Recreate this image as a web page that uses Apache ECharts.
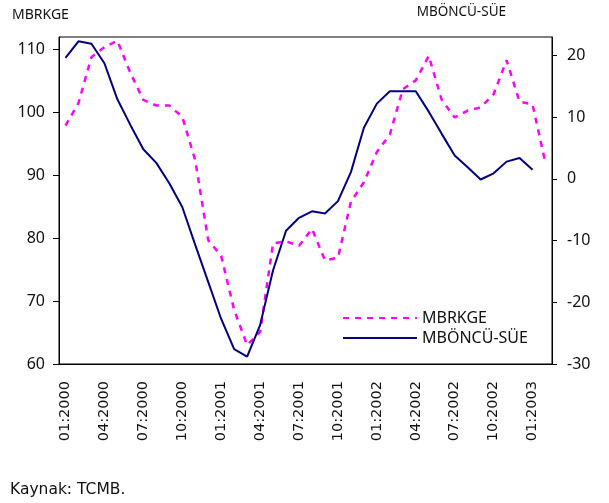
<!DOCTYPE html>
<html>
<head>
<meta charset="utf-8">
<script src="https://cdn.jsdelivr.net/npm/echarts@6/dist/echarts.min.js"></script>
<style>
html,body{margin:0;padding:0;background:#fff;}
#c{width:609px;height:503px;}
</style>
</head>
<body>
<div id="c"></div>
<script>
var categories = ["01:2000","02:2000","03:2000","04:2000","05:2000","06:2000","07:2000","08:2000","09:2000","10:2000","11:2000","12:2000",
"01:2001","02:2001","03:2001","04:2001","05:2001","06:2001","07:2001","08:2001","09:2001","10:2001","11:2001","12:2001",
"01:2002","02:2002","03:2002","04:2002","05:2002","06:2002","07:2002","08:2002","09:2002","10:2002","11:2002","12:2002",
"01:2003","02:2003"];
var mbrkge = [97.9,101.5,108.8,110.4,111.4,106.3,102.0,101.1,101.1,99.3,92.4,79.7,
77.2,68.6,63.0,65.1,79.2,79.5,78.8,81.5,76.5,76.9,85.8,88.9,
93.7,96.5,103.7,105.1,109.0,102.0,99.2,100.3,100.8,102.9,108.3,101.7,
101.3,91.9];
var mboncu = [19.6,22.3,21.9,18.75,12.9,8.75,4.8,2.6,-0.7,-4.55,-10.7,-16.7,
-22.7,-27.6,-28.8,-23.7,-14.8,-8.4,-6.3,-5.25,-5.6,-3.6,1.1,8.3,
12.2,14.2,14.2,14.2,10.9,7.3,3.8,1.9,-0.1,0.9,2.8,3.4,
1.5,null];
var leftTicks = [60,70,80,90,100,110];
var rightTicks = [-30,-20,-10,0,10,20];
var seriesNames = ["MBRKGE","MBÖNCÜ-SÜE"];

var chart = echarts.init(document.getElementById('c'), null, {renderer:'canvas'});
chart.setOption({
  animation:false,
  backgroundColor:'#fff',
  grid:{left:59,right:57,top:37,bottom:139,show:true,borderColor:'#000',borderWidth:1},
  legend:{
    orient:'vertical',left:337,top:303,
    itemWidth:74,itemHeight:20,itemGap:0,itemTextGap:7,
    itemStyle:{opacity:0},
    textStyle:{fontFamily:'Noto Sans',fontSize:16,color:'#111',lineHeight:20},
    data:seriesNames
  },
  graphic:[
    {type:'text',left:12,top:8,style:{text:'MBRKGE',fontFamily:'Noto Sans',fontSize:14,fill:'#111'}},
    {type:'text',right:103,top:5,style:{text:'MBÖNCÜ-SÜE',fontFamily:'Noto Sans',fontSize:13.5,fill:'#111'}},
    {type:'text',left:10,top:482,style:{text:'Kaynak: TCMB.',fontFamily:'DejaVu Sans',fontSize:15.5,fill:'#111'}}
  ],
  xAxis:{
    type:'category',data:categories,boundaryGap:true,
    axisLine:{onZero:false,lineStyle:{color:'#000',width:1}},
    axisTick:{interval:2,length:5,lineStyle:{color:'#000'}},
    axisLabel:{interval:2,rotate:90,margin:17,fontFamily:'DejaVu Sans',fontSize:14.5,color:'#111'},
    splitLine:{show:false}
  },
  yAxis:[
    {type:'value',min:60,max:112,interval:10,position:'left',
     axisLine:{show:true,lineStyle:{color:'#000'}},
     axisTick:{show:true,length:6,lineStyle:{color:'#000'},customValues:leftTicks},
     axisLabel:{margin:14,fontFamily:'Noto Sans',fontSize:16,color:'#111',customValues:leftTicks},
     splitLine:{show:false}},
    {type:'value',min:-30,max:23,interval:10,position:'right',
     axisLine:{show:true,lineStyle:{color:'#000'}},
     axisTick:{show:true,length:5,lineStyle:{color:'#000'},customValues:rightTicks},
     axisLabel:{margin:15,fontFamily:'Noto Sans',fontSize:16,color:'#111',customValues:rightTicks},
     splitLine:{show:false}}
  ],
  series:[
    {name:seriesNames[0],type:'line',yAxisIndex:0,data:mbrkge,symbol:'none',
     itemStyle:{color:'#ff00ff'},
     lineStyle:{color:'#ff00ff',width:2.5,type:[6,6]}},
    {name:seriesNames[1],type:'line',yAxisIndex:1,data:mboncu,symbol:'none',
     itemStyle:{color:'#000080'},
     lineStyle:{color:'#000080',width:2}}
  ]
});
</script>
</body>
</html>
